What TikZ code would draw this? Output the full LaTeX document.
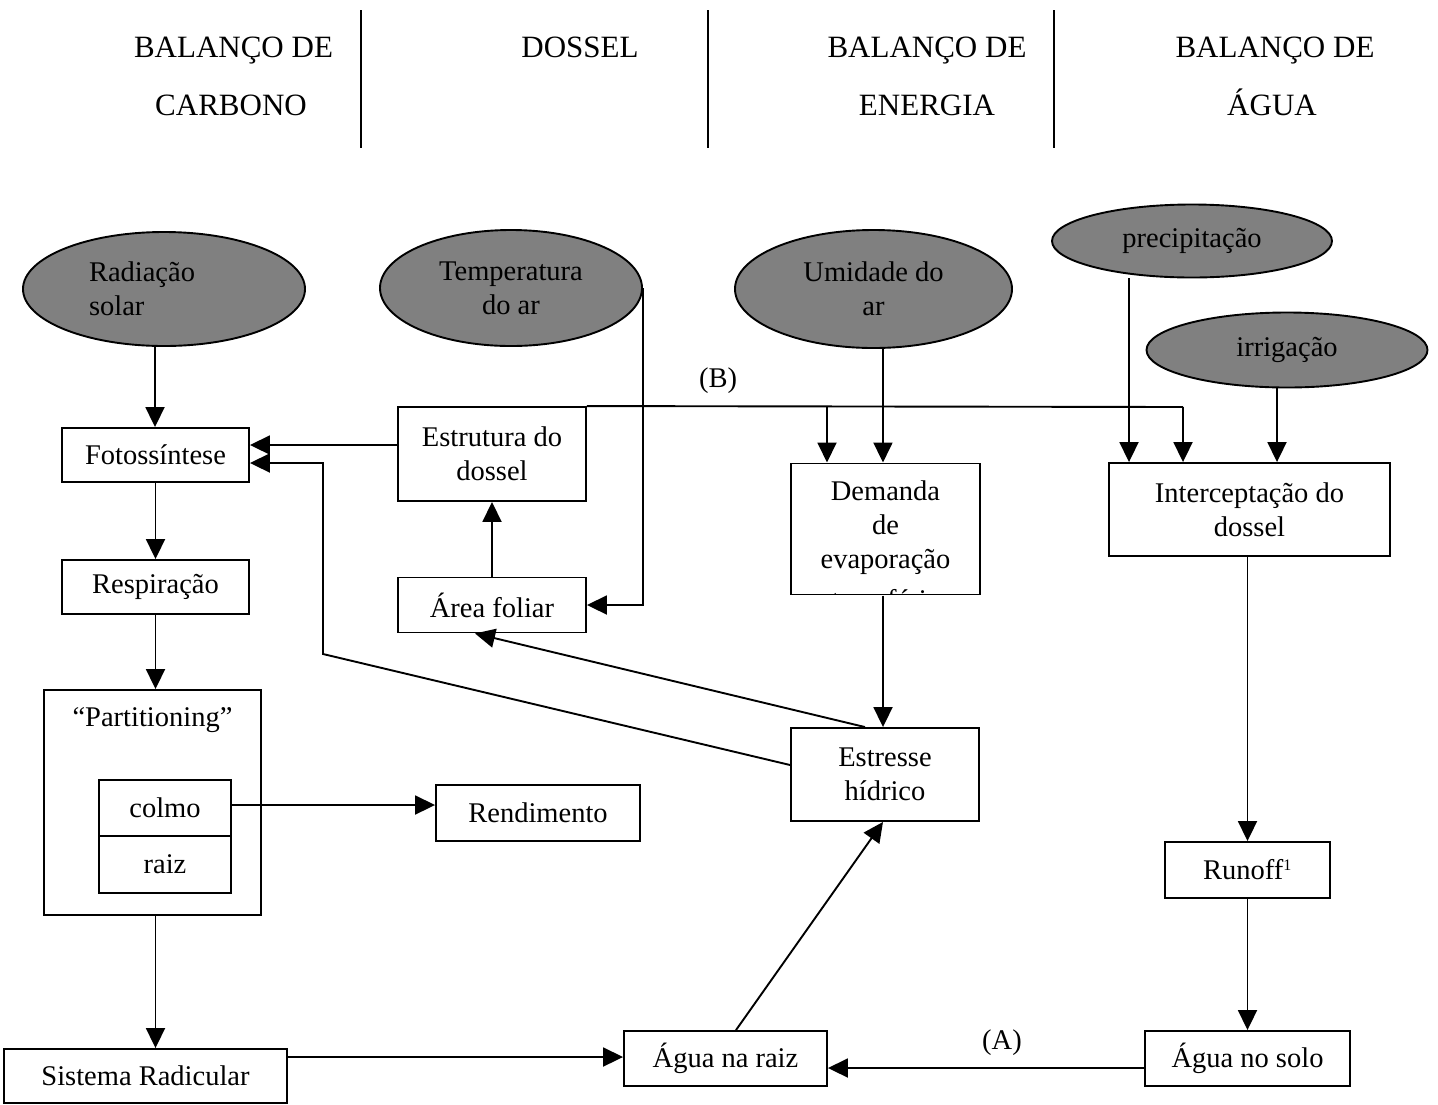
\documentclass[tikz,border=0pt]{standalone}
\usepackage{fontspec}
\setmainfont{Liberation Serif}
\usetikzlibrary{shapes.geometric,arrows.meta,calc}
\definecolor{ellgray}{RGB}{128,128,128}
\begin{document}
\begin{tikzpicture}[x=1pt,y=-1pt,
  every node/.style={font=\fontsize{28.5}{34}\selectfont},
  hdr/.style={font=\fontsize{31}{36}\selectfont, anchor=base, inner sep=0pt},
  box/.style={draw, line width=1.9pt, inner sep=0pt, align=center},
  ell/.style={ellipse, draw, line width=1.9pt, fill=ellgray, inner sep=0pt, align=center},
  conn/.style={line width=1.9pt},
  arr/.style={line width=1.9pt, -{Triangle[length=20pt,width=19pt]}},
  lbl/.style={inner sep=0pt}
]
\useasboundingbox (0,0) rectangle (1438,1104);

% header
\node[hdr] (h1a) at (233.5,57) {BALANÇO DE};
\node[hdr] (h1b) at (231,115) {CARBONO};
\node[hdr] (h2a) at (580,57) {DOSSEL};
\node[hdr] (h3a) at (927,57) {BALANÇO DE};
\node[hdr] (h3b) at (927,115) {ENERGIA};
\node[hdr] (h4a) at (1275,57) {BALANÇO DE};
\node[hdr] (h4b) at (1272,115) {ÁGUA};
\draw[conn] (361,10) -- (361,148);
\draw[conn] (708,10) -- (708,148);
\draw[conn] (1054,10) -- (1054,148);

% ellipses
\node[ell, minimum width=282, minimum height=114, text width=150, align=left] (rad) at (164,289) {Radiação\\solar};
\node[ell, minimum width=262, minimum height=116] (temp) at (511,288) {Temperatura\\do ar};
\node[ell, minimum width=277, minimum height=118] (umid) at (873.5,289) {Umidade do\\ar};
\node[ell, minimum width=280, minimum height=73] (prec) at (1192,241) {precipitação};
\node[ell, minimum width=281, minimum height=75] (irr) at (1287,350) {irrigação};

% boxes
\node[box, minimum width=187, minimum height=54] (foto) at (155.5,455) {Fotossíntese};
\node[box, minimum width=187, minimum height=54] (resp) at (155.5,587) {Respiração};
\node[box, minimum width=217, minimum height=225] (part) at (152.5,802.5) {};
\node[lbl] (partlbl) at (152.5,720) {“Partitioning”};
\node[box, minimum width=132, minimum height=56] (colmo) at (165,808) {colmo};
\node[box, minimum width=132, minimum height=57] (raiz) at (165,864.5) {raiz};
\node[box, minimum width=204, minimum height=56] (rend) at (538,813) {Rendimento};
\node[box, minimum width=283, minimum height=54] (sist) at (145.5,1076) {Sistema Radicular};
\node[box, minimum width=203, minimum height=55] (aguaraiz) at (725.5,1058.5) {Água na raiz};
\node[box, minimum width=205, minimum height=55] (aguasolo) at (1247.5,1058.5) {Água no solo};
\node[box, minimum width=165, minimum height=56] (runoff) at (1247.5,870) {Runoff\textsuperscript{\fontsize{16}{16}\selectfont 1}};
\node[box, minimum width=281, minimum height=93] (inter) at (1249.5,509.5) {Interceptação do\\dossel};
\node[inner sep=0pt, outer sep=0pt, minimum width=189, minimum height=131] (dem) at (885.5,529) {};
\begin{scope}
  \clip (dem.south west) rectangle (dem.north east);
  \node[lbl, anchor=north, align=center] (demtxt) at (885.5,481) {Demanda\\de\\evaporação\\[7pt]atmosférica};
\end{scope}
\draw[line width=1.9pt] (dem.south west) rectangle (dem.north east);
\node[box, minimum width=188, minimum height=94] (estr) at (492,454) {Estrutura do\\dossel};
\node[box, minimum width=188, minimum height=55] (area) at (492,605) {Área foliar};
\node[box, minimum width=188, minimum height=93] (estresse) at (885,774.5) {Estresse\\hídrico};

% labels
\node[lbl] (labB) at (718,381) {(B)};
\node[lbl] (labA) at (1002,1043) {(A)};

% coordinates
\coordinate (bL) at (827,407);
\coordinate (bR) at (1183,407);
\coordinate (k1) at (323,654);
\coordinate (k2) at (323,463);

% connectors
\draw[arr] (rad.south -| 155,0) -- (155,0 |- foto.north);
\draw[arr] (foto.south) -- (resp.north);
\draw[arr] (resp.south) -- (resp.south |- part.north);
\draw[arr] (resp.south |- part.south) -- (resp.south |- sist.north);
\draw[arr] (colmo.east |- 0,805) -- (rend.west |- 0,805);
\draw[arr] (sist.east |- 0,1057) -- (aguaraiz.west |- 0,1057);
\draw[arr] (aguasolo.west |- 0,1068) -- (aguaraiz.east |- 0,1068);
\draw[arr] (runoff.south) -- (aguasolo.north);
\draw[arr] (runoff.north |- inter.south) -- (runoff.north);
\draw[arr] (736,0 |- aguaraiz.north) -- (883,0 |- estresse.south);
\draw[arr] ([yshift=-1pt]883,0 |- dem.south) -- (883,0 |- estresse.north);
\draw[arr] (865,0 |- estresse.north) -- (475,0 |- area.south);
\draw[arr] (estresse.west |- 0,765) -- (k1) -- (k2) -- (foto.east |- k2);
\draw[arr] (estr.west |- 0,445) -- (foto.east |- 0,445);
\draw[arr] (area.north) -- (estr.south);
\draw[arr] (temp.east) -- (temp.east |- area.east) -- (area.east);
\draw[conn] (estr.north east) -- (bR);
\draw[arr] (bR) -- (bR |- inter.north);
\draw[arr] (bL) -- ([yshift=1pt]bL |- dem.north);
\draw[arr] (umid.279) -- ([yshift=1pt]umid.279 |- dem.north);
\draw[arr] (prec.south -| 1129,0) -- (1129,0 |- inter.north);
\draw[arr] (irr.south -| 1277,0) -- (1277,0 |- inter.north);
\end{tikzpicture}
\end{document}
